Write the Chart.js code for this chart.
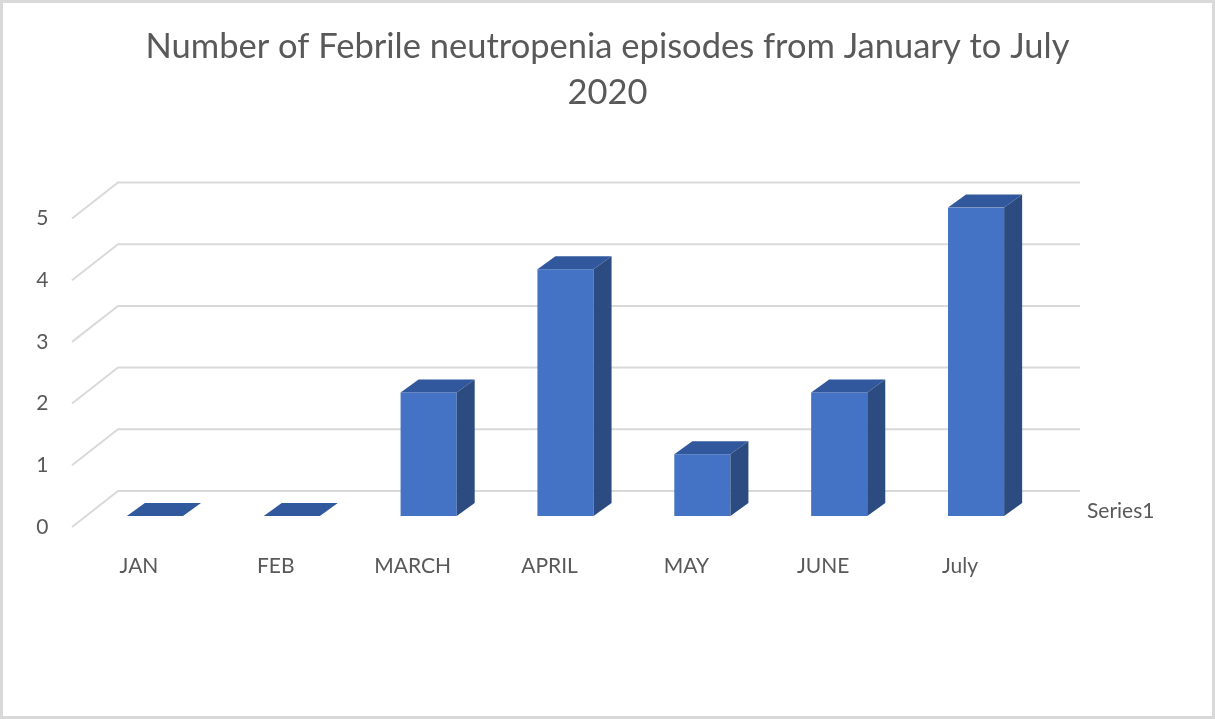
<!DOCTYPE html>
<html>
<head>
<meta charset="utf-8">
<script src="https://cdn.jsdelivr.net/npm/chart.js@4"></script>
<style>
	html, body { margin: 0; padding: 0; background: #ffffff; }
	#wrap { width: 1215px; height: 719px; position: relative; }
</style>
</head>
<body>
<div id="wrap"><canvas id="graficoFebril"></canvas></div>
<script>
const meses = ['JAN', 'FEB', 'MARCH', 'APRIL', 'MAY', 'JUNE', 'July'];
const episodios = [0, 0, 2, 4, 1, 2, 5];
const ticksY = [0, 1, 2, 3, 4, 5];
const nomeSerie = 'Series1';

// profundidade do efeito 3D
const prof = { barDx: 18, barDy: -13, frenteDx: -14.5, frenteDy: 11, fundoDx: 31.5, fundoDy: -25, fundoFim: 35.5 };

const grade3d = {
	id: 'grade3d',
	beforeDatasetsDraw(chart) {
		const c = chart.ctx, a = chart.chartArea, y = chart.scales.y;
		c.save();
		c.strokeStyle = '#d9d9d9';
		c.lineWidth = 2;
		ticksY.forEach(function (v) {
			const py = y.getPixelForValue(v);
			c.beginPath();
			c.moveTo(a.left + prof.frenteDx, py + prof.frenteDy);
			c.lineTo(a.left + prof.fundoDx, py + prof.fundoDy);
			c.lineTo(a.right + prof.fundoFim, py + prof.fundoDy);
			c.stroke();
		});
		c.restore();
	},
	afterDatasetsDraw(chart) {
		const c = chart.ctx, a = chart.chartArea, y = chart.scales.y;
		const dx = prof.barDx, dy = prof.barDy;
		c.save();
		chart.getDatasetMeta(0).data.forEach(function (bar) {
			const w = bar.width / 2;
			const x1 = bar.x - w, x2 = bar.x + w, top = bar.y, base = bar.base;
			// topo
			c.fillStyle = '#31589c';
			c.beginPath();
			c.moveTo(x1, top);
			c.lineTo(x2, top);
			c.lineTo(x2 + dx, top + dy);
			c.lineTo(x1 + dx, top + dy);
			c.closePath();
			c.fill();
			// lateral
			if (base - top > 0.5) {
				c.fillStyle = '#2c4b80';
				c.beginPath();
				c.moveTo(x2, top);
				c.lineTo(x2 + dx, top + dy);
				c.lineTo(x2 + dx, base + dy);
				c.lineTo(x2, base);
				c.closePath();
				c.fill();
			}
		});
		// rotulo do eixo de profundidade
		c.fillStyle = '#595959';
		c.font = '21px Lato';
		c.textAlign = 'left';
		c.textBaseline = 'middle';
		c.fillText(nomeSerie, a.right + 42.5, y.getPixelForValue(0) - 5);
		c.restore();
	},
	afterDraw(chart) {
		const c = chart.ctx;
		c.save();
		c.strokeStyle = '#d9d9d9';
		c.lineWidth = 3;
		c.strokeRect(1.5, 1.5, chart.width - 3, chart.height - 3);
		c.restore();
	}
};

document.addEventListener('DOMContentLoaded', function () {
	const ctx = document.getElementById('graficoFebril').getContext('2d');

	const data = {
		labels: meses,
		datasets: [
			{
				label: nomeSerie,
				data: episodios,
				backgroundColor: '#4472c4',
				borderWidth: 0,
				categoryPercentage: 1,
				barPercentage: 0.41,
			},
		],
	};

	const config = {
		type: 'bar',
		data: data,
		options: {
			responsive: true,
			maintainAspectRatio: false,
			animation: false,
			layout: {
				padding: { left: 0, right: 0, top: 24, bottom: 0 },
			},
			plugins: {
				legend: { display: false },
				tooltip: { enabled: false },
				title: {
					display: true,
					text: ['Number of Febrile neutropenia episodes from January to July', '2020'],
					color: '#595959',
					font: { family: 'Lato', size: 34.5, weight: 'normal', lineHeight: 1.34 },
					padding: { top: 0, bottom: 91 },
				},
			},
			scales: {
				x: {
					grid: { display: false, drawTicks: false },
					border: { display: false },
					ticks: { color: '#595959', font: { family: 'Lato', size: 21 }, padding: 38, labelOffset: -16 },
					afterFit: function (s) { s.height = 203; },
				},
				y: {
					min: 0,
					max: 5,
					grid: { display: false, drawTicks: false },
					border: { display: false },
					ticks: { stepSize: 1, color: '#595959', font: { family: 'Lato', size: 21 }, padding: 38, labelOffset: 11 },
					afterFit: function (s) { s.width = 86.5; },
				},
				// eixo vazio a direita para reservar o espaco do rotulo Series1
				y2: {
					position: 'right',
					grid: { display: false, drawTicks: false },
					border: { display: false },
					ticks: { display: false },
					afterFit: function (s) { s.width = 170.5; },
				},
			},
		},
		plugins: [grade3d],
	};

	new Chart(ctx, config);
});
</script>
</body>
</html>
